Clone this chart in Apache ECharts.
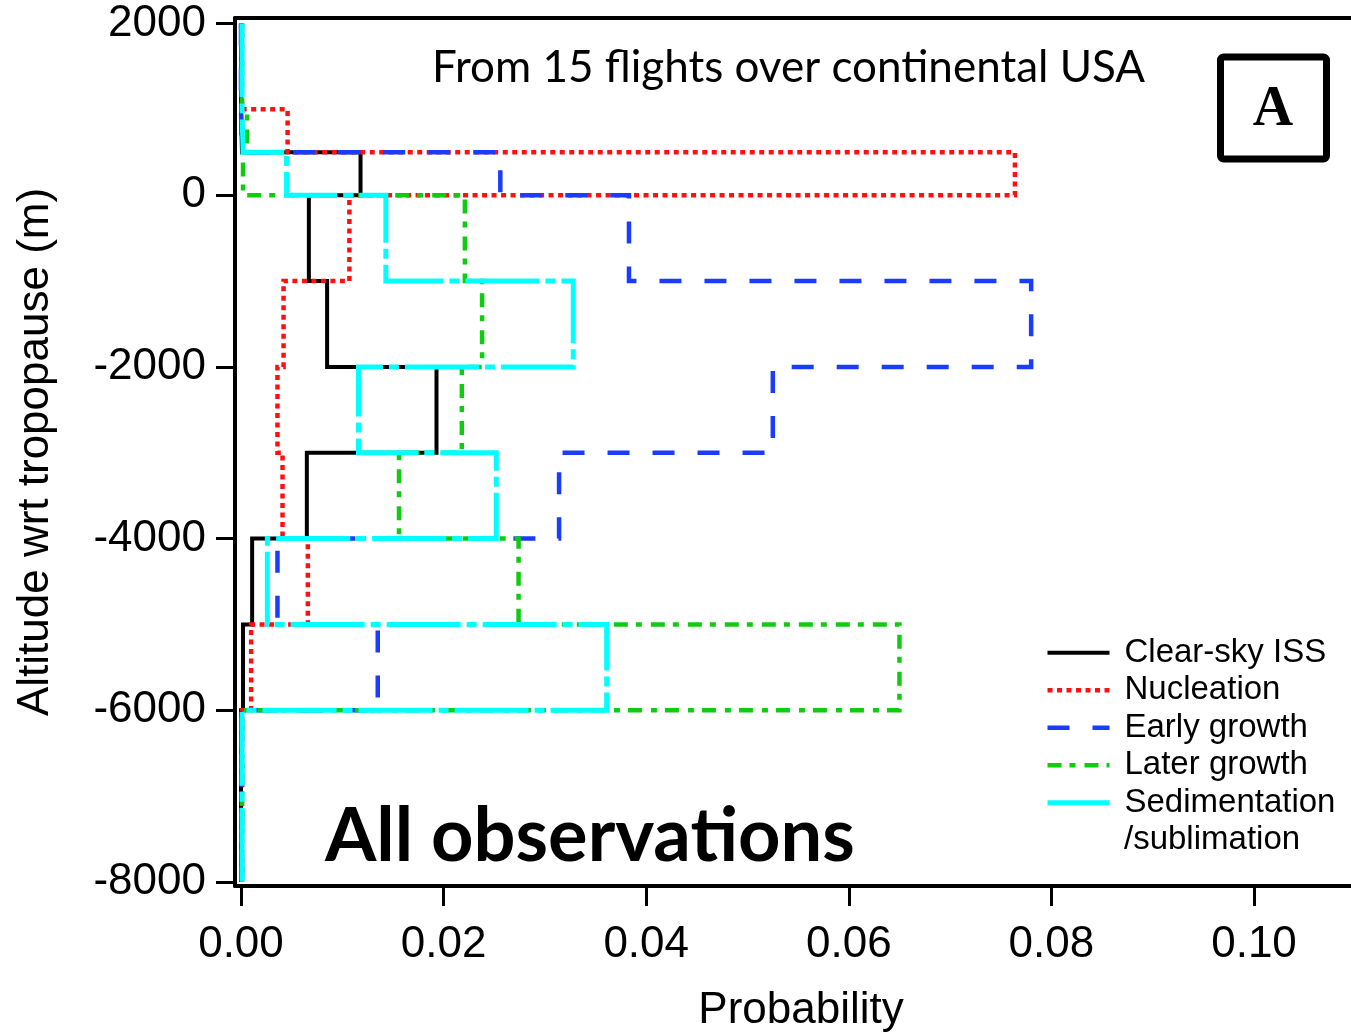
<!DOCTYPE html>
<html>
<head>
<meta charset="utf-8">
<script src="https://cdn.jsdelivr.net/npm/echarts@6/dist/echarts.min.js"></script>
<style>
html,body{margin:0;padding:0;background:#fff;}
#chart{width:1351px;height:1032px;}
</style>
</head>
<body>
<div id="chart"></div>
<script>
// Altitude bin edges (m wrt tropopause), top to bottom
const binEdges = [2000, 1000, 500, 0, -1000, -2000, -3000, -4000, -5000, -6000, -8000];
// Probability per bin (one value per bin between consecutive edges)
const clearSky      = [0.0000, 0.0001, 0.0118, 0.0067, 0.0085, 0.0193, 0.0065, 0.0011, 0.0002, 0.0000];
const nucleation    = [0.0001, 0.0046, 0.0764, 0.0107, 0.0042, 0.0036, 0.0041, 0.0066, 0.0010, 0.0001];
const earlyGrowth   = [0.0000, 0.0001, 0.0256, 0.0383, 0.0780, 0.0525, 0.0314, 0.0036, 0.0135, 0.0001];
const laterGrowth   = [0.0001, 0.0006, 0.0002, 0.0221, 0.0238, 0.0218, 0.0156, 0.0274, 0.0650, 0.0001];
const sedimentation = [0.0001, 0.0002, 0.0045, 0.0143, 0.0328, 0.0116, 0.0252, 0.0026, 0.0361, 0.0001];
const seriesNames = ['Clear-sky ISS', 'Nucleation', 'Early growth', 'Later growth', 'Sedimentation'];
const xTicks = [0, 0.02, 0.04, 0.06, 0.08, 0.10];
const yTicks = [2000, 0, -2000, -4000, -6000, -8000];

function steps(vals) {
  const pts = [];
  for (let i = 0; i < vals.length; i++) {
    pts.push([vals[i], binEdges[i]]);
    pts.push([vals[i], binEdges[i + 1]]);
  }
  return pts;
}

const font = '"Liberation Sans", Arial, sans-serif';
const xMin = -0.000592, xMax = 0.109575;
const yMin = -8046.5, yMax = 2064.1;

const styles = [
  {color: '#000000', width: 4, type: 'solid'},
  {color: '#ff1010', width: 4.5, type: [5, 4.5]},
  {color: '#1a3cff', width: 4.5, type: [22, 23]},
  {color: '#10cc10', width: 4.5, type: [14, 8, 6, 9]},
  {color: '#00ffff', width: 5, type: [74, 6, 10, 6]}
];
const datasets = [clearSky, nucleation, earlyGrowth, laterGrowth, sedimentation];

const chart = echarts.init(document.getElementById('chart'), null, {renderer: 'canvas'});
chart.setOption({
  animation: false,
  backgroundColor: '#ffffff',
  grid: {left: 235, right: 0, top: 18, bottom: 146, containLabel: false, outerBoundsMode: 'none'},
  xAxis: [{
    type: 'value', min: xMin, max: xMax, position: 'bottom',
    name: 'Probability', nameLocation: 'middle', nameGap: 103,
    nameTextStyle: {fontFamily: font, fontSize: 44, color: '#000', padding: [0, 0, 0, 16]},
    axisLine: {show: true, onZero: false, lineStyle: {color: '#000', width: 4}},
    axisTick: {show: true, length: 20, customValues: xTicks, lineStyle: {color: '#000', width: 3}},
    axisLabel: {show: true, customValues: xTicks, margin: 37, fontFamily: font, fontSize: 44, color: '#000',
      formatter: v => v.toFixed(2)},
    splitLine: {show: false}
  }, {
    type: 'value', min: xMin, max: xMax, position: 'top',
    axisLine: {show: true, onZero: false, lineStyle: {color: '#000', width: 4}},
    axisTick: {show: false}, axisLabel: {show: false}, splitLine: {show: false}
  }],
  yAxis: {
    type: 'value', min: yMin, max: yMax,
    name: 'Altitude wrt tropopause (m)', nameLocation: 'middle', nameGap: 177,
    nameTextStyle: {fontFamily: font, fontSize: 44, color: '#000'},
    axisLine: {show: true, onZero: false, lineStyle: {color: '#000', width: 4}},
    axisTick: {show: true, length: 19, customValues: yTicks, lineStyle: {color: '#000', width: 3}},
    axisLabel: {show: true, customValues: yTicks, margin: 29, fontFamily: font, fontSize: 44, color: '#000',
      formatter: v => String(Math.round(v))},
    splitLine: {show: false}
  },
  legend: {
    orient: 'vertical', left: 1040, top: 629,
    itemWidth: 62, itemHeight: 12, itemGap: 0,
    data: seriesNames.map((n, i) => ({
      name: n,
      itemStyle: {opacity: 0},
      lineStyle: {color: styles[i].color, width: styles[i].width, type: styles[i].type, cap: 'butt'}
    })),
    itemStyle: {opacity: 0},
    textStyle: {fontFamily: font, fontSize: 33, color: '#000', lineHeight: 37.5, padding: [0, 0, 0, 10]},
    selectedMode: false
  },
  series: datasets.map((d, i) => ({
    name: seriesNames[i], type: 'line', symbol: 'none', xAxisIndex: 0,
    data: steps(d), z: 2 + i,
    lineStyle: {color: styles[i].color, width: styles[i].width, type: styles[i].type, cap: 'butt', join: 'miter'},
    itemStyle: {color: styles[i].color}
  })),
  graphic: [
    {type: 'text', left: 1124, top: 823, style: {text: '/sublimation', font: '33px "Liberation Sans", Arial, sans-serif', fill: '#000'}},
    {type: 'text', left: 432, top: 46, style: {text: 'From 15 flights over continental USA', font: '44px Lato, sans-serif', fill: '#000'}},
    {type: 'text', left: 325, top: 800, style: {text: 'All observations', font: 'bold 74px Lato, sans-serif', fill: '#000'}},
    {type: 'rect', shape: {x: 1220.5, y: 57, width: 106, height: 102, r: 3}, style: {fill: '#fff', stroke: '#000', lineWidth: 7}},
    {type: 'text', x: 1273, y: 111, style: {text: 'A', font: 'bold 56px "Liberation Serif", "Times New Roman", serif', fill: '#000', align: 'center', verticalAlign: 'middle'}}
  ]
});
</script>
</body>
</html>
